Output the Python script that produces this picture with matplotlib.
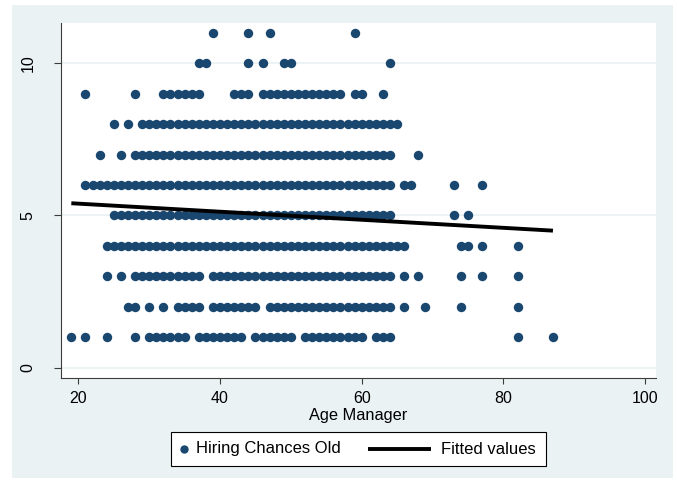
import numpy as np
import matplotlib.pyplot as plt
from matplotlib.patches import Rectangle
from matplotlib.lines import Line2D

plt.rcParams['font.family'] = ['Liberation Sans', 'DejaVu Sans']

# ages of managers (inclusive runs) giving each hiring-chance score
age_runs_1 = [(19, 19), (21, 21), (24, 24), (28, 28), (30, 35), (37, 43), (45, 50),
              (52, 60), (62, 64), (82, 82), (87, 87)]
age_runs_2 = [(27, 28), (30, 30), (32, 32), (34, 37), (39, 45), (47, 64), (66, 66),
              (69, 69), (74, 74), (82, 82)]
age_runs_3 = [(24, 24), (26, 26), (28, 37), (39, 64), (66, 66), (68, 68), (74, 74),
              (77, 77), (82, 82)]
age_runs_4 = [(24, 66), (74, 75), (77, 77), (82, 82)]
age_runs_5 = [(25, 64), (73, 73), (75, 75)]
age_runs_6 = [(21, 64), (66, 67), (73, 73), (77, 77)]
age_runs_7 = [(23, 23), (26, 26), (28, 64), (68, 68)]
age_runs_8 = [(25, 25), (27, 27), (29, 65)]
age_runs_9 = [(21, 21), (28, 28), (32, 37), (42, 44), (46, 57), (59, 60), (63, 63)]
age_runs_10 = [(37, 38), (44, 44), (46, 46), (49, 50), (64, 64)]
age_runs_11 = [(39, 39), (44, 44), (47, 47), (59, 59)]

scores = [1, 2, 3, 4, 5, 6, 7, 8, 9, 10, 11]
runs_by_score = [age_runs_1, age_runs_2, age_runs_3, age_runs_4, age_runs_5, age_runs_6,
                 age_runs_7, age_runs_8, age_runs_9, age_runs_10, age_runs_11]

# linear fit, evaluated at youngest and oldest manager
fit_age = [19, 87]
fit_hiring = [5.40, 4.50]

x_ticks = [20, 40, 60, 80, 100]
y_ticks = [0, 5, 10]

ages, hiring = [], []
for score, runs in zip(scores, runs_by_score):
    for lo, hi in runs:
        for a in range(lo, hi + 1):
            ages.append(a)
            hiring.append(score)
ages = np.array(ages)
hiring = np.array(hiring)

navy = '#1a476f'
bg = '#eaf2f3'
W, H = 677, 482

fig = plt.figure(figsize=(W / 100, H / 100), dpi=100)
fig.patch.set_facecolor('white')
fig.add_artist(Rectangle((12 / W, 1 - 478 / H), (673 - 12) / W, (478 - 5) / H,
                         transform=fig.transFigure, facecolor=bg, edgecolor='none', zorder=0))

ax = fig.add_axes([60.7 / W, 1 - 377.7 / H, (656 - 60.7) / W, (377.7 - 22.7) / H])
ax.set_facecolor('white')

ax.scatter(ages, hiring, s=46, color=navy, linewidths=0, zorder=3)
ax.plot(fit_age, fit_hiring, color='black', lw=2.8, solid_capstyle='butt', zorder=4)

ax.set_xlim(17.5, 101.55)
ax.set_ylim(-0.33, 11.33)
ax.set_xticks(x_ticks)
ax.set_yticks(y_ticks)
ax.set_yticklabels([str(t) for t in y_ticks], rotation=90, va='center')
ax.set_axisbelow(True)
ax.grid(axis='y', color=bg, lw=1.3)

for side in ['top', 'right']:
    ax.spines[side].set_visible(False)
for side in ['left', 'bottom']:
    ax.spines[side].set_color('#3c3c3c')
    ax.spines[side].set_linewidth(0.8)

ax.tick_params(axis='x', length=4.3, width=0.8, color='#3c3c3c', pad=5, labelsize=11.5)
ax.tick_params(axis='y', length=5, width=0.8, color='#3c3c3c', pad=13, labelsize=11.5)
ax.set_xlabel('Age Manager', fontsize=11.8, labelpad=2)

# legend box below the axes
ly = 1 - 449 / H
fig.add_artist(Rectangle((171 / W, 1 - 466 / H), (546 - 171) / W, (466 - 432) / H,
                         transform=fig.transFigure, facecolor='white', edgecolor='black', lw=0.8))
fig.add_artist(Line2D([184 / W], [ly], marker='o', ms=5, color=navy, lw=0,
                      transform=fig.transFigure))
fig.text(196 / W, ly, 'Hiring Chances Old', va='center', ha='left', fontsize=12)
fig.add_artist(Line2D([368 / W, 431 / W], [ly, ly], color='black', lw=2.8,
                      solid_capstyle='butt', transform=fig.transFigure))
fig.text(441 / W, ly, 'Fitted values', va='center', ha='left', fontsize=12)

fig.savefig('out.png', dpi=100)
